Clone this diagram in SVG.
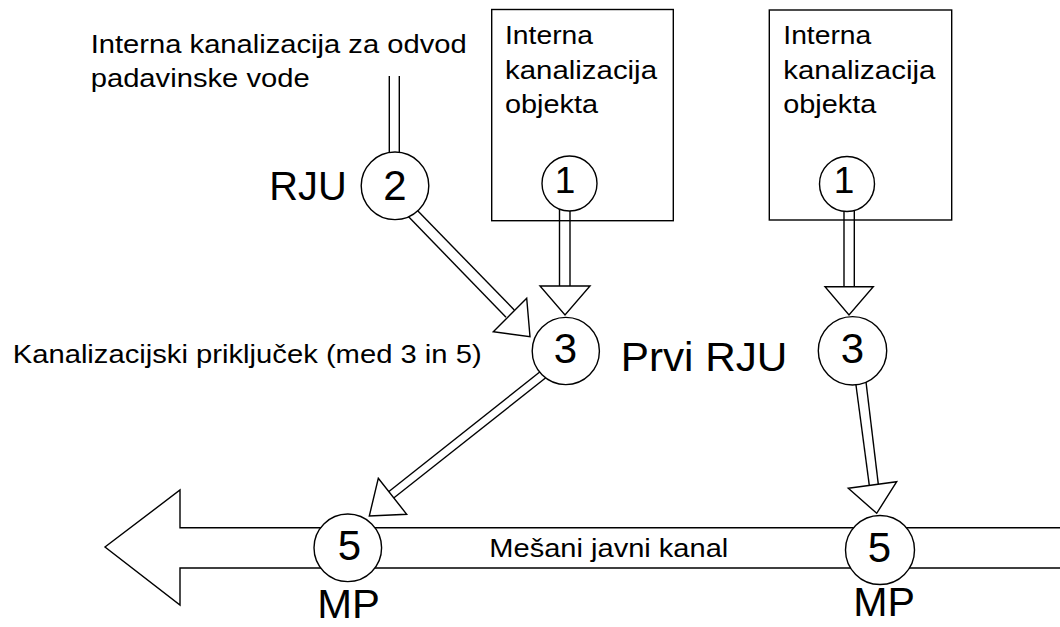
<svg xmlns="http://www.w3.org/2000/svg" width="1060" height="627" viewBox="0 0 1060 627">
  <style>
    .ln { fill: none; stroke: #000; stroke-width: 1.4; }
    .head { fill: #fff; stroke: #000; stroke-width: 1.4; stroke-linejoin: miter; }
    .node { fill: #fff; stroke: #000; stroke-width: 1.4; }
    .box { fill: #fff; stroke: #000; stroke-width: 1.4; }
    .sm { font-family: "Liberation Sans", Arial, sans-serif; font-size: 26px; fill: #000; }
    .big { font-family: "Liberation Sans", Arial, sans-serif; font-size: 41px; fill: #000; }
    .num { font-family: "Liberation Sans", Arial, sans-serif; font-size: 42px; fill: #000; text-anchor: middle; }
  </style>
  <rect width="1060" height="627" fill="#fff"/>

  <g id="boxes">
    <g id="box-left">
      <rect class="box" x="491.7" y="9.5" width="181.6" height="211.2"/>
      <text class="sm" x="505" y="43.5" textLength="88" lengthAdjust="spacingAndGlyphs">Interna</text>
      <text class="sm" x="505" y="79" textLength="152" lengthAdjust="spacingAndGlyphs">kanalizacija</text>
      <text class="sm" x="505" y="113" textLength="93" lengthAdjust="spacingAndGlyphs">objekta</text>
    </g>
    <g id="box-right">
      <rect class="box" x="769.3" y="10" width="182.4" height="210"/>
      <text class="sm" x="783.3" y="43.5" textLength="88" lengthAdjust="spacingAndGlyphs">Interna</text>
      <text class="sm" x="783.3" y="79" textLength="152" lengthAdjust="spacingAndGlyphs">kanalizacija</text>
      <text class="sm" x="783.3" y="113" textLength="93" lengthAdjust="spacingAndGlyphs">objekta</text>
    </g>
  </g>

  <g id="channel">
    <polyline class="ln" points="1062,527.7 180,527.7 180,490 105,547 180,605 180,568 1062,568"/>
    <text class="sm" x="489.3" y="556.7" textLength="239" lengthAdjust="spacingAndGlyphs">Mešani javni kanal</text>
  </g>

  <g id="connectors">
    <line class="ln" x1="389.3" y1="76" x2="389.3" y2="160"/>
    <line class="ln" x1="399.3" y1="76" x2="399.3" y2="160"/>
    <line class="ln" x1="404" y1="212" x2="506" y2="317.3"/>
    <line class="ln" x1="416" y1="209" x2="514.3" y2="310"/>
    <polygon class="head" points="526.7,298.3 493.3,331.7 530,336.7"/>
    <line class="ln" x1="559.5" y1="205" x2="559.5" y2="286"/>
    <line class="ln" x1="570" y1="205" x2="570" y2="286"/>
    <polygon class="head" points="540,286 590,286 565,315"/>
    <line class="ln" x1="541" y1="371" x2="388.6" y2="491.7"/>
    <line class="ln" x1="548" y1="376" x2="393.7" y2="498"/>
    <polygon class="head" points="378.3,478.3 406.7,514.3 369.3,516"/>
    <line class="ln" x1="844" y1="205" x2="844" y2="286.7"/>
    <line class="ln" x1="854.3" y1="205" x2="854.3" y2="286.7"/>
    <polygon class="head" points="825,286.7 873.3,286.7 849,315"/>
    <line class="ln" x1="855.3" y1="380" x2="869.3" y2="485.4"/>
    <line class="ln" x1="865.4" y1="377" x2="878.3" y2="484.2"/>
    <polygon class="head" points="848.3,488.3 896.7,481.7 876.7,513.3"/>
  </g>

  <g id="node-2">
    <circle class="node" cx="395" cy="185.8" r="33.8"/>
    <text class="num" x="395" y="200">2</text>
    <text class="big" x="269.3" y="200" textLength="77.4" lengthAdjust="spacingAndGlyphs">RJU</text>
  </g>
  <g id="node-1-left">
    <circle class="node" cx="569.5" cy="183.5" r="27.5"/>
    <text class="num" x="565" y="193.3" style="font-size:37px">1</text>
  </g>
  <g id="node-1-right">
    <circle class="node" cx="847" cy="184" r="27.5"/>
    <text class="num" x="844" y="193.3" style="font-size:37px">1</text>
  </g>
  <g id="node-3-left">
    <circle class="node" cx="565.8" cy="351" r="33.6"/>
    <text class="num" x="565.5" y="362.7">3</text>
    <text class="big" x="620.7" y="370.7" textLength="166.7" lengthAdjust="spacingAndGlyphs">Prvi RJU</text>
  </g>
  <g id="node-3-right">
    <circle class="node" cx="852.5" cy="350.8" r="34.2"/>
    <text class="num" x="852.5" y="363.3">3</text>
  </g>
  <g id="node-5-left">
    <circle class="node" cx="347.8" cy="547.8" r="33.8"/>
    <text class="num" x="349.5" y="560">5</text>
    <text class="big" x="317.3" y="618.3" textLength="62.7" lengthAdjust="spacingAndGlyphs">MP</text>
  </g>
  <g id="node-5-right">
    <circle class="node" cx="880" cy="550" r="34.5"/>
    <text class="num" x="879.5" y="561.7">5</text>
    <text class="big" x="853.3" y="616" textLength="61.7" lengthAdjust="spacingAndGlyphs">MP</text>
  </g>

  <g id="labels">
    <text class="sm" x="90.7" y="52.7" textLength="376" lengthAdjust="spacingAndGlyphs">Interna kanalizacija za odvod</text>
    <text class="sm" x="90.7" y="87.3" textLength="219" lengthAdjust="spacingAndGlyphs">padavinske vode</text>
    <text class="sm" x="12.7" y="363.3" textLength="469" lengthAdjust="spacingAndGlyphs">Kanalizacijski priključek (med 3 in 5)</text>
  </g>
</svg>
